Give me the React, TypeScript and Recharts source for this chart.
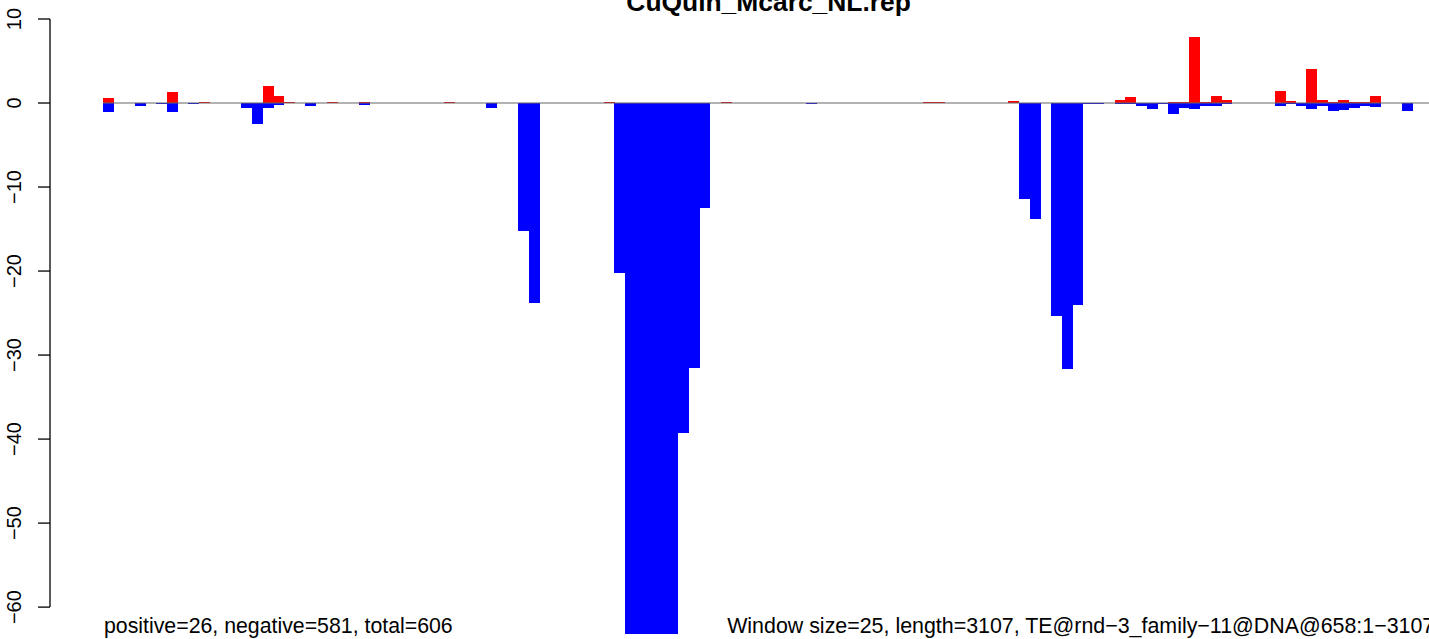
import { Bar, BarChart, XAxis, YAxis, ReferenceLine } from "recharts"

// one window = 25 bp, 125 windows over 3107 bp
const windowCount = 125

// red (positive) bar heights by window index
const positiveByWindow: [number, number][] = [
  [0, 0.63], [6, 1.35], [9, 0.08], [15, 2.06], [16, 0.87], [17, 0.16], [21, 0.08],
  [24, 0.16], [26, 0.05], [32, 0.08], [47, 0.16], [58, 0.16], [59, 0.05], [77, 0.16],
  [78, 0.16], [85, 0.28], [95, 0.4], [96, 0.75], [100, 0.16], [101, 0.16], [102, 7.9],
  [103, 0.16], [104, 0.87], [105, 0.4], [110, 1.47], [111, 0.28], [113, 4.09],
  [114, 0.4], [115, 0.16], [116, 0.4], [117, 0.16], [118, 0.16], [119, 0.87], [121, 0.05],
]

// blue (negative) bar heights by window index
const negativeByWindow: [number, number][] = [
  [0, -1.03], [3, -0.32], [5, -0.1], [6, -1.03], [8, -0.1], [13, -0.56], [14, -2.46],
  [15, -0.56], [16, -0.2], [18, -0.05], [19, -0.32], [24, -0.2], [25, -0.05], [35, -0.05],
  [36, -0.56], [39, -15.2], [40, -23.8], [41, -0.05], [45, -0.05], [48, -20.2],
  [49, -63.2], [50, -63.2], [51, -63.2], [52, -63.2], [53, -63.2], [54, -39.25],
  [55, -31.5], [56, -12.5], [64, -0.05], [66, -0.16], [78, -0.05], [79, -0.05], [81, -0.05],
  [86, -11.4], [87, -13.8], [89, -25.3], [90, -31.6], [91, -24.1], [92, -0.16], [93, -0.16],
  [95, -0.16], [96, -0.16], [97, -0.32], [98, -0.67], [99, -0.16], [100, -1.27],
  [101, -0.56], [102, -0.67], [103, -0.32], [104, -0.32], [105, -0.16], [110, -0.32],
  [111, -0.16], [112, -0.32], [113, -0.67], [114, -0.32], [115, -0.91], [116, -0.8],
  [117, -0.56], [118, -0.32], [119, -0.44], [122, -0.91],
]

const yTicks = [-60, -50, -40, -30, -20, -10, 0, 10]

const title = "CuQuin_Mcarc_NL.rep"
const leftNote = "positive=26, negative=581, total=606"
const rightNote = "Window size=25, length=3107, TE@rnd\u22123_family\u221211@DNA@658:1\u22123107"

const posMap = new Map(positiveByWindow)
const negMap = new Map(negativeByWindow)
const data = Array.from({ length: windowCount }, (_, i) => ({
  win: i,
  pos: posMap.get(i) ?? 0,
  neg: negMap.get(i) ?? 0,
}))

const FONT = "'Liberation Sans', Arial, Helvetica, sans-serif"
const AXIS_X = 50
const TICK_LEN = 12
const LABEL_X = 21

// remembers tick positions so the axis line only spans first..last tick
const tickY = new Map<number, number>()

function YTick(props: any) {
  const { y, payload } = props
  const v = payload.value as number
  tickY.set(v, y)
  const segs: number[] = []
  if (tickY.has(v - 10)) segs.push(tickY.get(v - 10)!)
  if (tickY.has(v + 10)) segs.push(tickY.get(v + 10)!)
  const label = v < 0 ? `\u2212${Math.abs(v)}` : `${v}`
  return (
    <g>
      {segs.map((y2, k) => (
        <line key={k} x1={AXIS_X} x2={AXIS_X} y1={y} y2={y2} stroke="#000" strokeWidth={1.3} />
      ))}
      <line x1={AXIS_X - TICK_LEN} x2={AXIS_X} y1={y} y2={y} stroke="#000" strokeWidth={1.3} />
      <text
        x={LABEL_X}
        y={y}
        transform={`rotate(-90 ${LABEL_X} ${y})`}
        textAnchor="middle"
        fontSize={20}
        fontFamily={FONT}
        fill="#000"
      >
        {label}
      </text>
    </g>
  )
}

export default function App() {
  return (
    <div
      style={{
        position: "absolute",
        left: 0,
        top: 0,
        width: 1429,
        height: 639,
        overflow: "hidden",
        background: "#fff",
      }}
    >
      <BarChart
        width={1440}
        height={639}
        data={data}
        margin={{ top: 19, right: 5.75, bottom: 5, left: 0 }}
        barCategoryGap={0}
        barGap={0}
        stackOffset="sign"
      >
        <XAxis dataKey="win" hide />
        <YAxis
          width={103}
          domain={[-63.2, 10]}
          ticks={yTicks}
          interval={0}
          allowDataOverflow
          axisLine={false}
          tickLine={false}
          tickSize={0}
          tickMargin={0}
          tick={YTick}
        />
        <Bar dataKey="pos" stackId="s" fill="#ff0000" shapeRendering="crispEdges" isAnimationActive={false} />
        <Bar dataKey="neg" stackId="s" fill="#0000ff" shapeRendering="crispEdges" isAnimationActive={false} />
        <ReferenceLine y={0} stroke="#666" strokeWidth={1.2} />
      </BarChart>
      <svg
        width={1440}
        height={639}
        style={{ position: "absolute", left: 0, top: 0, pointerEvents: "none" }}
      >
        <text x={768.6} y={11} textAnchor="middle" fontSize={26.4} fontWeight="bold" fontFamily={FONT}>
          {title}
        </text>
        <text x={104} y={633} fontSize={21.3} fontFamily={FONT}>
          {leftNote}
        </text>
        <text x={1434.25} y={633} textAnchor="end" fontSize={21.4} fontFamily={FONT}>
          {rightNote}
        </text>
      </svg>
    </div>
  )
}
